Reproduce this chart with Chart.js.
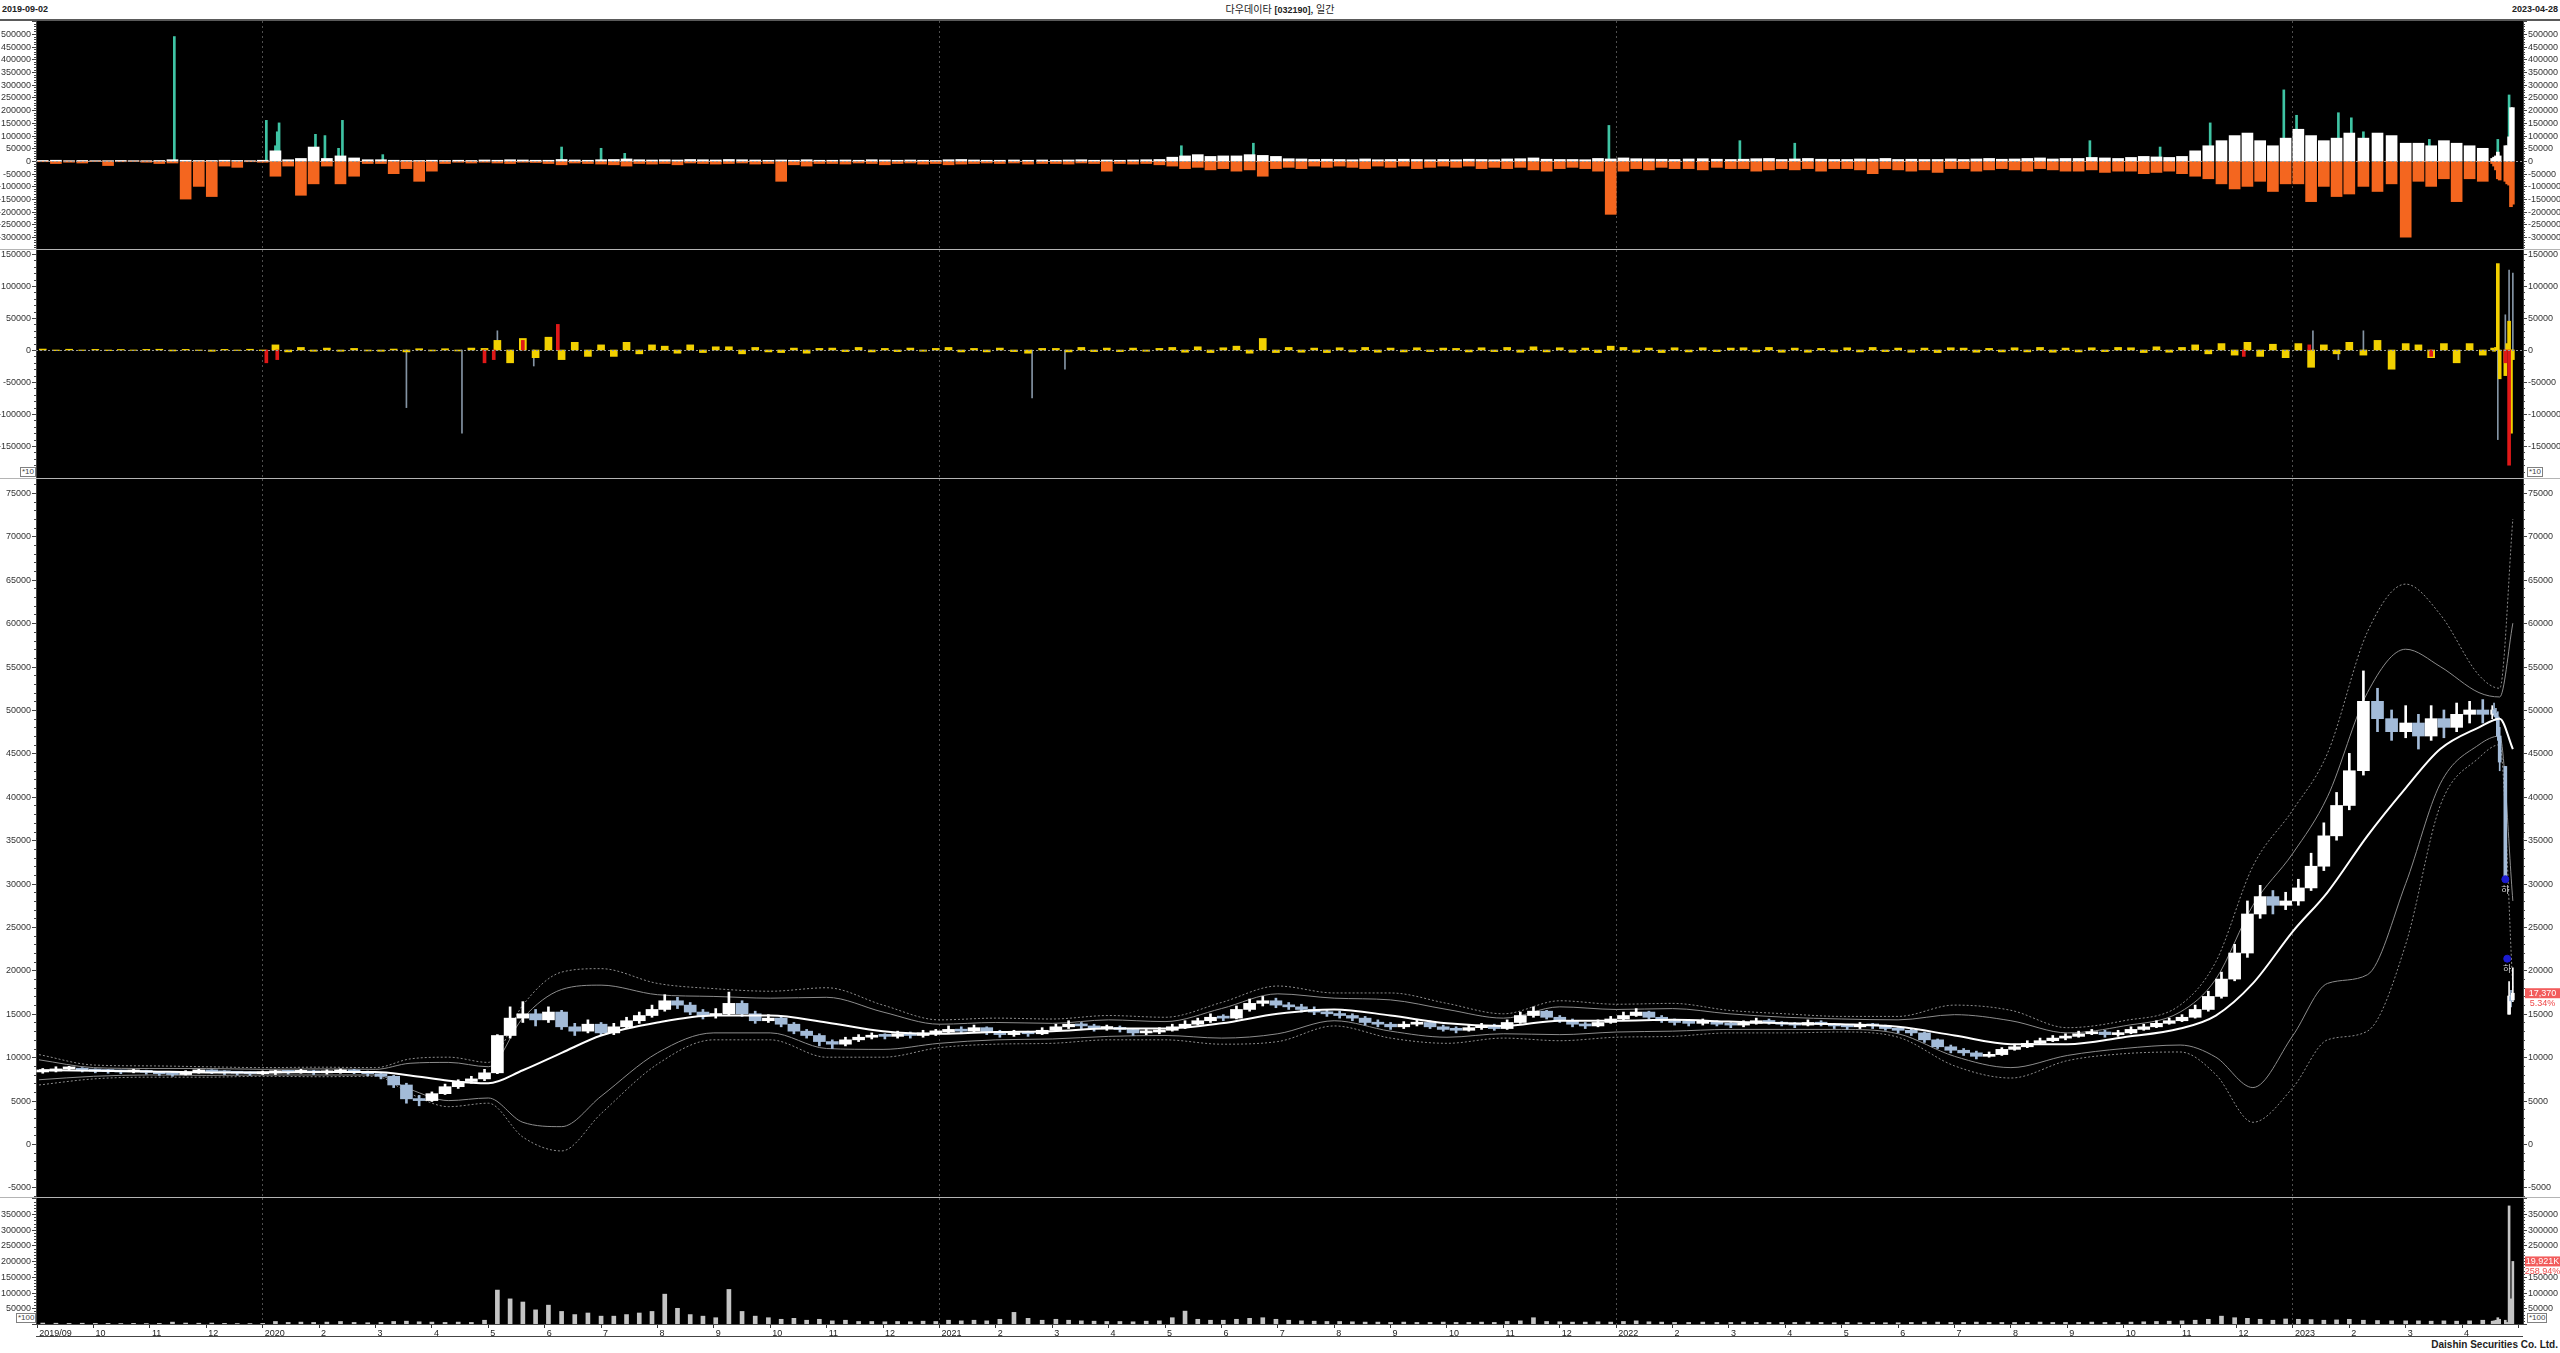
<!DOCTYPE html>
<html lang="ko">
<head>
<meta charset="utf-8">
<title>다우데이타 [032190], 일간</title>
<script src="https://cdn.jsdelivr.net/npm/chart.js"></script>
<style>
  html, body { margin: 0; padding: 0; background: #fff; }
  body { width: 2560px; height: 1353px; position: relative; overflow: hidden; font-family: "Liberation Sans", Arial, sans-serif; }
  canvas { position: absolute; left: 0; }
  .hd { position: absolute; top: 4px; font-size: 9px; font-weight: bold; color: #222; line-height: 11px; white-space: nowrap; }
  .sep { position: absolute; left: 0; width: 2560px; height: 1px; background: #b4b4b4; }
  .mult { position: absolute; font-size: 8px; line-height: 8px; color: #444; border: 1px solid #808080; padding: 0 1px; background: #fff; }
</style>
</head>
<body>
<div class="hd" style="left:2px">2019-09-02</div>
<div class="hd" style="left:0;width:2560px;text-align:center;font-weight:normal;font-family:'Noto Sans CJK KR',sans-serif;font-size:10px;top:3px">다우데이타 <b style="font-family:'Liberation Sans',sans-serif;font-size:9px">[032190]</b>, 일간</div>
<div class="hd" style="right:2px">2023-04-28</div>
<div class="sep" style="top:19px;height:2px;background:#5a5a5a"></div>

<canvas id="c1" width="2560" height="228" style="top:21px"></canvas>
<div class="sep" style="top:249px"></div>
<canvas id="c2" width="2560" height="228" style="top:250px"></canvas>
<div class="sep" style="top:478px"></div>
<canvas id="c3" width="2560" height="718" style="top:479px"></canvas>
<div class="sep" style="top:1197px"></div>
<canvas id="c4" width="2560" height="138" style="top:1198px"></canvas>
<div style="position:absolute;left:36px;width:2487px;top:1336px;height:1px;background:#444"></div>

<div class="mult" style="left:20px;top:467px">*10</div>
<div class="mult" style="left:2527px;top:467px">*10</div>
<div class="mult" style="left:16px;top:1313px">*100</div>
<div class="mult" style="left:2527px;top:1313px">*100</div>
<div style="position:absolute;right:2px;top:1339px;font:bold 10px 'Liberation Sans Narrow','Liberation Sans',sans-serif;color:#222;white-space:nowrap">Daishin Securities Co. Ltd.</div>

<script>
const FONT = '"Liberation Sans", Arial, sans-serif';

// ---- time: weekly bars from Mon 2019-09-02 to Mon 2023-04-10, then daily ----
const firstMonday = '2019-09-02';
const dayDates = ['2023-04-17', '2023-04-18', '2023-04-19', '2023-04-20', '2023-04-21',
                  '2023-04-24', '2023-04-25', '2023-04-26', '2023-04-27', '2023-04-28'];

// ---- price, weekly ----
const open0 = 8300;
const wkClose = [
  8400, 8650, 8700, 8500, 8400,  8350, 8300, 8400, 8250,  8100, 8000, 8300, 8400,  8300, 8200, 8150, 8100, 8200,
  8300, 8250, 8400, 8200,  8300, 8400, 8300, 8100,  7800, 6800, 5200, 5000, 5800,  6600, 7200, 7500, 8200,
  12500, 14500, 15000, 14300,  15200, 13500, 13000, 13800, 12800,  13500, 14200, 14800, 15500,
  16500, 16000, 15200, 14800, 15000,  16200, 15000, 14200, 14500,  13800, 13000, 12500, 11800,
  11500, 12000, 12300, 12500, 12400,  12700, 12500, 12800, 12900,
  13200, 13000, 13400, 12900,  12600, 12800, 12700, 13100,  13500, 13800, 13600, 13300, 13400,  13200, 12800, 12900, 13100,
  13500, 13800, 14200, 14600, 14500,  15500, 16200, 16500, 16000,  15800, 15500, 15200, 15000,
  14800, 14500, 14000, 13800, 13500,  13800, 14000, 13500, 13200,  13100, 13400, 13600, 13300,
  14000, 14800, 15300, 14600, 14200,  13800, 13600, 14000, 14400,
  14800, 15200, 14600, 14200, 14000,  13900, 14100, 13800, 13700,  13900, 14200, 14000, 13800,  13700, 14000, 13800, 13600,
  13500, 13700, 13600, 13300, 13100,  12800, 12000, 11200, 10800,  10500, 10100, 10300, 10900,
  11200, 11600, 11900, 12200, 12400,  12700, 12900, 12600, 12800,  13200, 13500, 13900, 14200, 14600,
  15500, 17000, 19000, 22000,  26500, 28500, 27500, 28000,
  29500, 32000, 35500, 39000, 43000,  51000, 49000, 47500, 48500,  47000, 49000, 48000, 49500,  50000, 49500
];
const wkHigh = [
  8700, 8900, 8950, 8800, 8650,  8600, 8500, 8600, 8500,  8350, 8250, 8450, 8600,  8550, 8450, 8350, 8300, 8400,
  8500, 8450, 8600, 8500,  8550, 8650, 8600, 8400,  8250, 7900, 7000, 5600, 6000,  6900, 7400, 7800, 8600,
  12600, 15800, 16400, 15500,  15800, 15400, 13900, 14300, 14000,  13900, 14600, 15200, 16000,
  17200, 16900, 16300, 15500, 15600,  17500, 16500, 15300, 14900,  14700, 14000, 13200, 12700,
  12000, 12300, 12600, 12800, 12700,  13000, 12900, 13100, 13200,
  13600, 13500, 13700, 13500,  13100, 13100, 13000, 13400,  13800, 14200, 14000, 13800, 13700,  13600, 13300, 13200, 13400,
  13800, 14200, 14500, 15000, 14900,  15900, 16700, 17000, 16800,  16300, 16100, 15800, 15500,
  15300, 15000, 14700, 14300, 14000,  14100, 14300, 14200, 13700,  13500, 13700, 13900, 13800,
  14300, 15200, 15800, 15400, 14800,  14400, 14000, 14300, 14700,
  15200, 15600, 15300, 14800, 14400,  14200, 14400, 14200, 14000,  14200, 14500, 14400, 14100,  14000, 14300, 14200, 13900,
  13800, 14000, 13900, 13700, 13400,  13300, 12900, 12100, 11400,  11000, 10700, 10600, 11100,
  11500, 11900, 12200, 12500, 12700,  13000, 13200, 13100, 13100,  13500, 13800, 14200, 14500, 14900,
  16000, 17600, 19800, 23000,  28000, 29800, 29200, 29000,
  30500, 33500, 37000, 40500, 45000,  54500, 52500, 50000, 50500,  49500, 50500, 50000, 50800,  51000, 51200
];
const wkLow = [
  8150, 8300, 8500, 8300, 8200,  8150, 8100, 8200, 8050,  7900, 7800, 7950, 8150,  8100, 8000, 7950, 7900, 8000,
  8000, 8050, 8150, 8000,  8050, 8150, 8100, 7850,  7500, 6500, 4700, 4400, 4900,  5700, 6400, 7000, 7300,
  8100, 12200, 14000, 13600,  14000, 13200, 12500, 12800, 12500,  12600, 13300, 13900, 14600,
  15300, 15600, 14900, 14400, 14500,  14800, 14700, 13900, 14000,  13500, 12700, 12200, 11300,
  11000, 11300, 11800, 12100, 12100,  12200, 12200, 12300, 12500,
  12700, 12700, 12900, 12600,  12300, 12400, 12400, 12600,  13000, 13300, 13300, 13000, 13100,  12900, 12500, 12600, 12700,
  13000, 13300, 13700, 14000, 14200,  14400, 15300, 15900, 15700,  15500, 15200, 14900, 14700,
  14500, 14200, 13700, 13500, 13200,  13300, 13600, 13300, 13000,  12800, 13000, 13200, 13100,
  13200, 13900, 14600, 14400, 14000,  13500, 13300, 13500, 13900,
  14300, 14700, 14400, 14000, 13700,  13600, 13700, 13600, 13400,  13500, 13800, 13800, 13600,  13400, 13600, 13600, 13300,
  13200, 13300, 13300, 13100, 12800,  12500, 11700, 11000, 10500,  10200, 9800, 10000, 10200,
  10800, 11100, 11500, 11800, 12000,  12300, 12600, 12300, 12400,  12700, 13100, 13400, 13800, 14100,
  14500, 15300, 16800, 18800,  21500, 26000, 26500, 27000,
  27500, 29200, 31500, 35000, 38500,  42500, 47500, 46500, 46800,  45500, 46500, 46800, 47500,  48500, 48500
];
// ---- price, daily (last two weeks) ----
const dayOpen  = [49500, 50000, 49600, 49200, 47000, 43500, 21350, 14950, 17000, 16600];
const dayHigh  = [50500, 50800, 50200, 49800, 48000, 43500, 21350, 18700, 17700, 20300];
const dayLow   = [49000, 49300, 48800, 46500, 43000, 30500, 21350, 14950, 15800, 16400];
const dayClose = [50000, 49600, 49200, 47000, 44000, 30500, 21350, 17050, 16490, 17370];
const limitDownDays = ['2023-04-24', '2023-04-25'];

// ---- moving average and bands (read at these dates) ----
const bandDates = [
  '2019-09-02', '2019-10-01', '2019-11-01', '2019-12-01',
  '2020-01-01', '2020-02-01', '2020-03-01', '2020-03-20', '2020-04-10', '2020-05-01', '2020-05-20', '2020-06-10',
  '2020-07-01', '2020-08-01', '2020-09-01', '2020-10-01', '2020-11-01', '2020-12-01',
  '2021-01-01', '2021-02-01', '2021-03-01', '2021-04-01', '2021-05-01', '2021-06-01',
  '2021-07-01', '2021-08-01', '2021-09-01', '2021-10-01', '2021-11-01', '2021-12-01',
  '2022-01-01', '2022-02-01', '2022-03-01', '2022-04-01', '2022-05-01', '2022-06-01',
  '2022-07-01', '2022-08-01', '2022-09-01', '2022-10-01', '2022-11-01', '2022-11-20', '2022-12-10',
  '2023-01-01', '2023-01-20', '2023-02-10', '2023-03-01', '2023-03-20', '2023-04-10', '2023-04-21', '2023-04-28'
];
const maLine = [
  8500, 8450, 8350, 8250,
  8250, 8300, 8300, 7900, 7300, 7000, 8500, 10500, 12500, 14000, 14800, 14800, 14000, 13000,
  12700, 12900, 13000, 13300, 13300, 13900, 15000, 15500, 14800, 13900, 13600, 14200,
  14200, 14300, 14100, 13900, 13800, 13500, 12500, 11500, 11500, 12300, 13300, 14800, 18500,
  24500, 29000, 35500, 41000, 45500, 48000, 49000, 45500
];
const bbUp = [
  9700, 8800, 8700, 8700,
  8600, 8650, 8600, 9300, 9400, 8900, 14500, 17800, 18300, 17200, 17000, 16800, 16900, 15200,
  13800, 14000, 13900, 14300, 14100, 15600, 17300, 16800, 16600, 15500, 14500, 15800,
  15500, 15600, 15000, 14600, 14400, 14300, 14900, 14200, 12800, 13600, 15200, 19000, 27500,
  33500, 40000, 52000, 57000, 55000, 52000, 51500, 60000
];
const bbDn = [
  7400, 7800, 7950, 7900,
  7950, 7950, 7950, 6300, 5000, 5300, 2500, 2000, 5500, 10500, 12800, 12800, 11000, 10900,
  11600, 12000, 12100, 12400, 12500, 12200, 12700, 14200, 13000, 12300, 12700, 12600,
  12900, 13000, 13200, 13200, 13200, 12700, 10100, 8800, 10200, 11000, 11400, 10000, 6500,
  12500, 18500, 19500, 30000, 41500, 46000, 47000, 28000
];
const envUp = [
  10300, 9100, 9000, 8900,
  8800, 8850, 8800, 9800, 10000, 9400, 16000, 19800, 20200, 18500, 17900, 17600, 18000, 16000,
  14300, 14500, 14400, 14800, 14600, 16300, 18200, 17400, 17400, 16200, 15000, 16500,
  16100, 16200, 15400, 15000, 14700, 14700, 16000, 15400, 13400, 14200, 16000, 21000, 32000,
  38500, 45000, 59000, 64500, 61000, 54000, 52500, 72000
];
const envDn = [
  6800, 7500, 7700, 7700,
  7800, 7750, 7800, 5800, 4300, 4700, 800, -800, 3500, 9200, 12000, 12000, 10000, 10000,
  11100, 11500, 11600, 12000, 12000, 11500, 11800, 13600, 12200, 11600, 12200, 11900,
  12300, 12400, 12800, 12800, 12900, 12300, 9000, 7600, 9600, 10400, 10600, 8000, 2500,
  6500, 12000, 13000, 23000, 39000, 44500, 46000, 18000
];

// ---- panel 1: net buying (white +, orange -), teal spikes ----
const buyWk = [
  2000, 3000, 1000, 2000, 1000,  1000, 2000, 1000, 1000,  2000, 5000, 3000, 2000,  2000, 3000, 2000, 1000, 3000,
  40000, 5000, 10000, 55000,  10000, 20000, 12000, 5000,  5000, 3000, 2000, 2000, 3000,  2000, 3000, 2000, 4000,
  3000, 5000, 4000, 3000,  3000, 6000, 4000, 3000, 5000,  6000, 8000, 5000, 4000,
  5000, 4000, 6000, 5000, 4000,  6000, 5000, 4000, 3000,  4000, 3000, 5000, 3000,
  3000, 4000, 3000, 5000, 4000,  3000, 4000, 3000, 2000,
  5000, 6000, 4000, 3000,  3000, 4000, 3000, 4000,  3000, 4000, 5000, 3000, 4000,  3000, 4000, 5000, 6000,
  15000, 20000, 25000, 18000, 20000,  20000, 25000, 22000, 18000,  9000, 8000, 6000, 7000,
  6000, 5000, 8000, 5000, 6000,  7000, 6000, 5000, 6000,  5000, 7000, 6000, 5000,
  8000, 9000, 12000, 7000, 6000,  6000, 5000, 10000, 8000,
  12000, 9000, 8000, 7000, 6000,  8000, 9000, 7000, 6000,  7000, 9000, 10000, 6000,  8000, 10000, 7000, 6000,
  6000, 8000, 7000, 10000, 6000,  7000, 6000, 6000, 8000,  6000, 8000, 10000, 7000,
  8000, 10000, 12000, 8000, 10000,  10000, 14000, 12000, 10000,  14000, 18000, 16000, 14000, 18000,
  40000, 60000, 80000, 100000,  110000, 80000, 60000, 90000,
  125000, 100000, 80000, 90000, 110000,  90000, 110000, 100000, 70000,  70000, 60000, 80000, 70000,  60000, 50000
];
const sellWk = [
  -3000, -10000, -5000, -8000, -2000,  -18000, -3000, -2000, -5000,  -10000, -8000, -150000, -100000,  -140000, -20000, -25000, -3000, -5000,
  -60000, -20000, -135000, -90000,  -20000, -90000, -60000, -10000,  -10000, -50000, -30000, -80000, -40000,  -10000, -5000, -8000, -5000,
  -8000, -10000, -5000, -6000,  -10000, -15000, -8000, -10000, -12000,  -15000, -20000, -10000, -12000,
  -10000, -15000, -8000, -10000, -12000,  -10000, -8000, -12000, -10000,  -80000, -15000, -20000, -10000,
  -10000, -12000, -8000, -10000, -15000,  -10000, -8000, -12000, -10000,
  -15000, -12000, -10000, -8000,  -10000, -8000, -12000, -10000,  -10000, -12000, -8000, -10000, -40000,  -10000, -12000, -10000, -15000,
  -20000, -30000, -25000, -35000, -30000,  -40000, -35000, -60000, -30000,  -25000, -30000, -20000, -25000,
  -20000, -25000, -30000, -20000, -25000,  -20000, -30000, -25000, -20000,  -25000, -20000, -30000, -25000,
  -30000, -25000, -35000, -40000, -30000,  -25000, -30000, -40000, -210000,
  -40000, -30000, -35000, -25000, -30000,  -30000, -35000, -25000, -30000,  -30000, -40000, -35000, -30000,  -35000, -30000, -40000, -30000,
  -30000, -35000, -50000, -30000, -35000,  -40000, -35000, -45000, -30000,  -30000, -40000, -35000, -30000,
  -35000, -40000, -30000, -35000, -40000,  -40000, -35000, -45000, -40000,  -40000, -50000, -45000, -40000, -50000,
  -60000, -70000, -90000, -110000,  -100000, -80000, -120000, -90000,
  -90000, -160000, -100000, -140000, -130000,  -100000, -120000, -90000, -300000,  -80000, -100000, -70000, -160000,  -70000, -80000
];
const buyDay  = [10000, 15000, 20000, 35000, 20000, 60000, 60000, 95000, 210000, 210000];
const sellDay = [-10000, -20000, -35000, -70000, -75000, -80000, -90000, -95000, -180000, -170000];
const tealSpikes = [
  ['2019-11-14', 490000], ['2020-01-03', 160000], ['2020-01-08', 60000], ['2020-01-09', 115000],
  ['2020-01-10', 150000], ['2020-01-30', 105000], ['2020-02-04', 100000], ['2020-02-11', 50000],
  ['2020-02-13', 160000], ['2020-03-05', 25000], ['2020-06-10', 55000], ['2020-07-01', 50000],
  ['2020-07-14', 30000], ['2021-05-10', 60000], ['2021-06-18', 70000], ['2021-12-28', 140000],
  ['2022-03-07', 80000], ['2022-04-06', 70000], ['2022-09-13', 80000], ['2022-10-21', 55000],
  ['2022-11-17', 150000], ['2022-12-27', 280000], ['2023-01-03', 180000], ['2023-01-06', 110000],
  ['2023-01-26', 190000], ['2023-02-02', 170000], ['2023-02-08', 115000], ['2023-03-14', 85000],
  ['2023-04-04', 55000], ['2023-04-20', 85000], ['2023-04-26', 260000]
];

// ---- panel 2: yellow / red bars, grey spikes ----
const yelWk = [
  1500, -1000, 1200, -800, 1000,  -1000, 800, -600, 1000,  1200, -1500, 1000, -800,  -2000, 1000, -800, 1200, -1000,
  8000, -3000, 4000, -2000,  3000, -2000, 2500, -1500,  -2000, 1500, -3000, 2000, -1500,  2000, -1500, 3000, 2500,
  15000, -20000, 18000, -12000,  20000, -15000, 12000, -10000, 8000,  -10000, 12000, -6000, 8000,
  6000, -5000, 8000, -4000, 5000,  5000, -6000, 4000, -3000,  -4000, 3000, -5000, 2500,
  3000, -2500, 4000, -3000, 2500,  -2500, 3000, -2000, 2500,
  4000, -3000, 2500, -3000,  3000, -2500, -5000, 2500,  2500, -3000, 4000, -2500, 3000,  -2500, 3000, -2000, 2500,
  4000, -3500, 5000, -4000, 3500,  6000, -5000, 18000, -4000,  4000, -3500, 3000, -4000,
  3500, -3000, 4000, -3500, 3000,  -3000, 3500, -2500, 3000,  2500, -3000, 3500, -2500,
  4000, -3500, 5000, -3000, 3500,  -3500, 3000, -4000, 6000,
  4000, -3500, 3000, -4000, 3500,  -3000, 3500, -2500, 3000,  3500, -3000, 4000, -3500,  3000, -3500, 2500, -3000,
  3500, -3000, 4000, -2500, 3000,  -3500, 3000, -4000, 3500,  3000, -3500, 2500, -3000,
  3500, -3000, 4000, -3500, 3000,  -3000, 3500, -2500, 4000,  3500, -4000, 5000, -3500, 4000,
  8000, -6000, 10000, -8000,  12000, -10000, 9000, -12000,
  10000, -27000, 8000, -6000, 12000,  -8000, 15000, -30000, 10000,  8000, -12000, 10000, -20000,  10000, -8000
];
const yelDay = [3000, -2000, 4000, 135000, -45000, -40000, 10000, 45000, -130000, -15000];
const redSpikes = [
  ['2020-01-03', -20000], ['2020-01-09', -15000], ['2020-04-29', -20000], ['2020-05-04', -15000],
  ['2020-05-20', 15000], ['2020-06-08', 40000], ['2022-12-05', -10000], ['2023-01-10', 8000],
  ['2023-03-15', -10000], ['2023-04-24', -20000], ['2023-04-26', -180000]
];
const greySpikes = [
  ['2020-03-18', -90000], ['2020-04-17', -130000], ['2020-05-06', 30000], ['2020-05-26', -25000],
  ['2021-02-19', -75000], ['2021-03-08', -30000], ['2023-01-12', 30000], ['2023-01-26', -15000],
  ['2023-02-08', 30000], ['2023-04-20', -140000], ['2023-04-24', 55000], ['2023-04-26', 125000],
  ['2023-04-28', 120000]
];

// ---- panel 4: volume (x100 shares) ----
const volWk = [
  3000, 2500, 2000, 2500, 2000,  2000, 1500, 2000, 1500,  2000, 6000, 3000, 2500,  3000, 2000, 1500, 1500, 2000,
  8000, 5000, 6000, 5000,  6000, 8000, 5000, 4000,  5000, 8000, 9000, 7000, 6000,  5000, 6000, 5000, 12000,
  108000, 80000, 70000, 45000,  60000, 40000, 30000, 35000, 25000,  25000, 30000, 35000, 40000,
  95000, 50000, 30000, 25000, 20000,  110000, 40000, 25000, 20000,  15000, 18000, 12000, 15000,
  10000, 12000, 8000, 8000, 7000,  8000, 7000, 9000, 8000,
  12000, 10000, 12000, 10000,  15000, 37000, 18000, 12000,  15000, 12000, 10000, 9000, 8000,  8000, 7000, 9000, 10000,
  20000, 41000, 15000, 12000, 12000,  15000, 18000, 20000, 15000,  12000, 10000, 9000, 8000,
  8000, 7000, 6000, 6000, 5000,  6000, 5000, 5000, 6000,  5000, 5000, 6000, 5000,
  8000, 10000, 20000, 8000, 7000,  6000, 6000, 7000, 6000,
  8000, 10000, 7000, 6000, 5000,  5000, 6000, 5000, 5000,  6000, 5000, 5000, 5000,  5000, 6000, 5000, 4000,
  5000, 4000, 5000, 4000, 4000,  5000, 6000, 6000, 5000,  5000, 6000, 5000, 5000,
  5000, 5000, 6000, 5000, 5000,  5000, 6000, 5000, 5000,  6000, 7000, 8000, 9000, 10000,
  12000, 15000, 25000, 20000,  18000, 15000, 12000, 16000,
  15000, 14000, 12000, 13000, 15000,  12000, 11000, 10000, 10000,  10000, 9000, 10000, 9000,  10000, 12000
];
const volDay = [9000, 10000, 12000, 20000, 15000, 12000, 5000, 376000, 80000, 199210];
const volChangeText = '258.94%';

[wkHigh, wkLow, buyWk, sellWk, yelWk, volWk].forEach((a, k) => {
  if (a.length !== wkClose.length) throw new Error('weekly array ' + k + ' has ' + a.length + ' vs ' + wkClose.length);
});
[maLine, bbUp, bbDn, envUp, envDn].forEach((a, k) => {
  if (a.length !== bandDates.length) throw new Error('band array ' + k + ' has ' + a.length);
});

// ---- helpers ----
function shiftDate(s, n) {
  const d = new Date(s + 'T00:00:00Z');
  d.setUTCDate(d.getUTCDate() + n);
  return d.toISOString().slice(0, 10);
}
// months since 2019-09-01 (the x unit of every panel)
function monthPos(s) {
  const [y, m, d] = s.split('-').map(Number);
  const dim = new Date(Date.UTC(y, m, 0)).getUTCDate();
  return (y - 2019) * 12 + (m - 9) + (d - 1) / dim;
}
const wkX = wkClose.map((_, i) => monthPos(shiftDate(firstMonday, 7 * i + 2)));
const dayX = dayDates.map(monthPos);
const pts = (xs, ys) => ys.map((y, i) => ({ x: xs[i], y }));
const spikes = list => list.map(([d, v]) => ({ x: monthPos(d), y: v }));

const X_MIN = -0.02, X_MAX = 44.08;
const isYear = v => Number.isInteger(v) && (v - 4) % 12 === 0;
function monthLabel(v) {
  if (v === 0) return '2019/09';
  if (v >= 44) return '';
  const mo = (v + 8) % 12 + 1;
  return mo === 1 ? String(2019 + Math.floor((v + 8) / 12)) : String(mo);
}

function xAxis(show) {
  return {
    type: 'linear', min: X_MIN, max: X_MAX, offset: false,
    afterFit: s => { s.height = show ? 12 : 0; },
    grid: {
      offset: false, drawOnChartArea: true, drawTicks: show, tickLength: 4, tickColor: '#333',
      color: c => (c.tick && isYear(c.tick.value)) ? '#4e4e4e' : 'rgba(0,0,0,0)'
    },
    border: { display: show, color: '#444', dash: [2, 3] },
    ticks: {
      display: show, stepSize: 1, autoSkip: false, includeBounds: false, maxTicksLimit: 1000,
      maxRotation: 0, align: 'start', labelOffset: 2, padding: 0,
      color: '#222', font: { size: 9, family: FONT }, callback: monthLabel
    }
  };
}

// value axes: Chart.js keeps the range, the marks are drawn from it below
function yAxis(pos, y) {
  return {
    type: 'linear', axis: 'y', position: pos, min: y.min, max: y.max, stacked: false,
    afterFit: s => { s.width = pos === 'left' ? 36 : 37; },
    grid: { display: false, drawOnChartArea: false, drawTicks: false },
    border: { display: true, color: '#444' },
    ticks: { display: false }
  };
}

const yMarks = y => ({
  id: 'yMarks',
  afterDraw(c) {
    const ctx = c.ctx, s = c.scales.yL, a = c.chartArea;
    ctx.save();
    if (y.zero) {
      const z = Math.round(s.getPixelForValue(0)) + 0.5;
      ctx.strokeStyle = '#9a9a9a';
      ctx.setLineDash([2, 2]);
      ctx.beginPath(); ctx.moveTo(a.left, z); ctx.lineTo(a.right, z); ctx.stroke();
      ctx.setLineDash([]);
    }
    ctx.font = '9px ' + FONT;
    ctx.fillStyle = '#333';
    ctx.strokeStyle = '#444';
    ctx.lineWidth = 1;
    ctx.textBaseline = 'middle';
    for (let v = Math.ceil(y.min / y.step) * y.step; v <= y.max; v += y.step) {
      const py = Math.round(s.getPixelForValue(v)) + 0.5;
      const major = v % y.major === 0;
      const len = major ? 4 : 2;
      ctx.beginPath();
      ctx.moveTo(a.left - len, py); ctx.lineTo(a.left, py);
      ctx.moveTo(a.right, py); ctx.lineTo(a.right + len, py);
      ctx.stroke();
      if (major && v >= y.lo && v <= y.hi) {
        ctx.textAlign = 'right'; ctx.fillText(String(v), a.left - 5, py);
        ctx.textAlign = 'left'; ctx.fillText(String(v), a.right + 5, py);
      }
    }
    ctx.restore();
  }
});

const blackArea = {
  id: 'blackArea',
  beforeDraw(c) {
    const { ctx, chartArea: a } = c;
    ctx.save();
    ctx.fillStyle = '#000';
    ctx.fillRect(a.left, a.top, a.right - a.left, a.bottom - a.top);
    ctx.restore();
  }
};

function lastTag(value, tag, sub) {
  return {
    id: 'lastTag',
    afterDraw(c) {
      const ctx = c.ctx;
      const y = c.scales.yL.getPixelForValue(value);
      const x0 = c.chartArea.right + 2, xm = (x0 + c.width) / 2;
      ctx.save();
      ctx.fillStyle = '#f25c5c';
      ctx.fillRect(x0, y - 5, c.width - x0, 10);
      ctx.font = '9px ' + FONT;
      ctx.textAlign = 'center';
      ctx.textBaseline = 'middle';
      ctx.fillStyle = '#fff';
      ctx.fillText(tag, xm, y);
      ctx.fillStyle = '#f04848';
      ctx.fillText(sub, xm, y + 10);
      ctx.restore();
    }
  };
}

const limitText = {
  id: 'limitText',
  afterDatasetsDraw(c) {
    const idx = c.data.datasets.findIndex(d => d.label === 'limit');
    if (idx < 0) return;
    const ctx = c.ctx;
    ctx.save();
    ctx.font = '9px "Noto Sans CJK KR", sans-serif';
    ctx.fillStyle = '#d8d8d8';
    ctx.textAlign = 'center';
    ctx.textBaseline = 'middle';
    c.getDatasetMeta(idx).data.forEach(p => ctx.fillText('하', p.x, p.y + 10));
    ctx.restore();
  }
};

function panel(id, datasets, y, showX, extra) {
  datasets.forEach(d => {
    d.yAxisID = 'yL'; d.xAxisID = 'x';
    if (d.type === 'bar') { d.stack = 'one'; d.borderWidth = 0; }
  });
  return new Chart(document.getElementById(id), {
    type: 'bar',
    data: { datasets },
    options: {
      responsive: false, devicePixelRatio: 1, animation: false, events: [],
      layout: { padding: 0, autoPadding: false },
      plugins: { legend: { display: false }, tooltip: { enabled: false } },
      scales: { x: xAxis(showX), yL: yAxis('left', y), yR: yAxis('right', y) }
    },
    plugins: [blackArea, yMarks(y)].concat(extra || [])
  });
}

const bar = (data, color, thick, order) => ({ type: 'bar', data, backgroundColor: color, barThickness: thick, order });

// ---- panel 1 ----
const WHITE = '#ffffff', ORANGE = '#f4661f', TEAL = '#3fc4a4';
panel('c1', [
  bar(spikes(tealSpikes), TEAL, 2, 3),
  bar(pts(wkX, buyWk), WHITE, 11, 1),
  bar(pts(wkX, sellWk), ORANGE, 11, 1),
  bar(pts(dayX, buyDay), WHITE, 3, 1),
  bar(pts(dayX, sellDay), ORANGE, 3, 1)
], { min: -346500, max: 551200, step: 10000, major: 50000, lo: -300000, hi: 500000, zero: true }, false);

// ---- panel 2 ----
const YELLOW = '#f2d000', RED = '#e01818', GREY = '#8494a4';
panel('c2', [
  bar(spikes(greySpikes), GREY, 1, 3),
  bar(pts(wkX, yelWk), YELLOW, 7, 2),
  bar(pts(dayX, yelDay), YELLOW, 3, 2),
  bar(spikes(redSpikes), RED, 3, 1)
], { min: -200000, max: 156250, step: 10000, major: 50000, lo: -150000, hi: 150000, zero: true }, false);

// ---- panel 3: price ----
const UP = '#ffffff', DOWN = '#a3bbd8', BAND = '#8c8c8c';
const wkOpen = wkClose.map((c, i) => (i ? wkClose[i - 1] : open0));
const bandLine = (vals, color, width, dash, order) => ({
  type: 'line', data: pts(bandDates.map(monthPos), vals), borderColor: color, borderWidth: width,
  borderDash: dash, pointRadius: 0, cubicInterpolationMode: 'monotone', fill: false, order
});
const candleColor = c => (c.raw && c.raw.y[1] < c.raw.y[0]) ? DOWN : UP;
const wickColor = c => (c.raw && c.raw.up) ? UP : DOWN;
const lastClose = dayClose[dayClose.length - 1];
const prevClose = dayClose[dayClose.length - 2];
panel('c3', [
  bandLine(envUp, BAND, 1, [2, 2], 6),
  bandLine(envDn, BAND, 1, [2, 2], 6),
  bandLine(bbUp, BAND, 1, [], 6),
  bandLine(bbDn, BAND, 1, [], 6),
  { type: 'bar', data: wkX.map((x, i) => ({ x, y: [wkLow[i], wkHigh[i]], up: wkClose[i] >= wkOpen[i] })),
    backgroundColor: wickColor, barThickness: 2, order: 3 },
  { type: 'bar', data: wkX.map((x, i) => ({ x, y: [wkOpen[i], wkClose[i]] })),
    backgroundColor: candleColor, barThickness: 12, minBarLength: 2, order: 2 },
  { type: 'bar', data: dayX.map((x, i) => ({ x, y: [dayLow[i], dayHigh[i]], up: dayClose[i] >= dayOpen[i] })),
    backgroundColor: wickColor, barThickness: 1, order: 3 },
  { type: 'bar', data: dayX.map((x, i) => ({ x, y: [dayOpen[i], dayClose[i]] })),
    backgroundColor: candleColor, barThickness: 3, minBarLength: 2, order: 2 },
  bandLine(maLine, '#ffffff', 2, [], 1),
  { type: 'scatter', label: 'limit', order: 0,
    data: limitDownDays.map(d => ({ x: monthPos(d), y: dayClose[dayDates.indexOf(d)] })),
    pointRadius: 3.5, pointBackgroundColor: '#1c1cd0', pointBorderColor: '#1c1cd0' }
], { min: -6106, max: 76610, step: 1000, major: 5000, lo: -5000, hi: 75000, zero: false }, false,
  [limitText, lastTag(lastClose, lastClose.toLocaleString('en-US'),
    ((lastClose / prevClose - 1) * 100).toFixed(2) + '%')]);

// ---- panel 4: volume ----
const VOL = '#c4c4c4';
const lastVol = volDay[volDay.length - 1];
panel('c4', [
  bar(pts(wkX, volWk), VOL, 4, 1),
  bar(pts(dayX, volDay), VOL, 2, 1)
], { min: 0, max: 401200, step: 10000, major: 50000, lo: 50000, hi: 350000, zero: false }, true,
  [lastTag(lastVol, Math.round(lastVol / 10).toLocaleString('en-US') + 'K', volChangeText)]);
</script>
</body>
</html>
